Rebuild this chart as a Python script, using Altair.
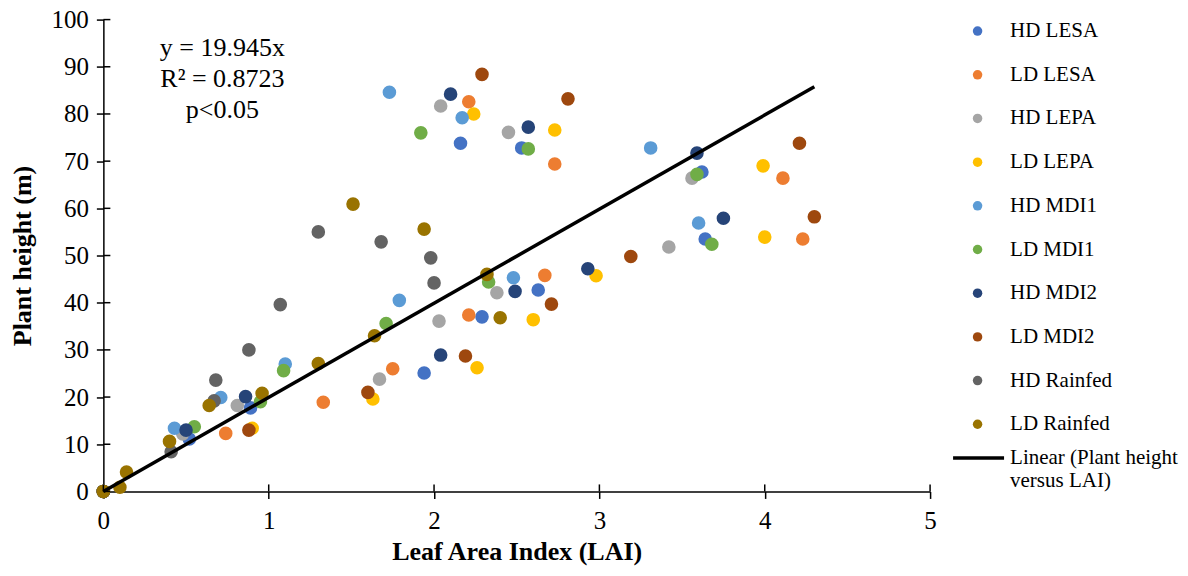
import altair as alt
import pandas as pd

series = ["HD LESA", "LD LESA", "HD LEPA", "LD LEPA", "HD MDI1",
          "LD MDI1", "HD MDI2", "LD MDI2", "HD Rainfed", "LD Rainfed"]
colors = ["#4472C4", "#ED7D31", "#A5A5A5", "#FFC000", "#5B9BD5",
          "#70AD47", "#264478", "#9E480E", "#636363", "#997300"]

hd_lesa_lai = [0, 0.52, 0.89, 1.94, 2.29, 2.63, 3.64, 3.62, 2.16, 2.53]
hd_lesa_h = [0, 11.1, 17.7, 25.1, 37.0, 42.7, 53.5, 67.7, 73.8, 72.8]
ld_lesa_lai = [0, 0.74, 1.33, 1.75, 2.21, 2.67, 4.23, 4.11, 2.73, 2.21]
ld_lesa_h = [0, 12.3, 18.9, 26.0, 37.4, 45.8, 53.5, 66.4, 69.4, 82.6]
hd_lepa_lai = [0, 0.48, 0.81, 1.67, 2.03, 2.38, 3.42, 3.56, 2.45, 2.04]
hd_lepa_h = [0, 12.2, 18.2, 23.8, 36.1, 42.1, 51.8, 66.4, 76.1, 81.7]
ld_lepa_lai = [0, 0.90, 1.63, 2.26, 2.60, 2.98, 4.00, 3.99, 2.73, 2.24]
ld_lepa_h = [0, 13.4, 19.6, 26.2, 36.4, 45.7, 53.9, 69.0, 76.6, 80.0]
hd_mdi1_lai = [0, 0.43, 0.71, 1.10, 1.79, 2.48, 3.60, 3.31, 2.17, 1.73]
hd_mdi1_h = [0, 13.4, 19.9, 27.0, 40.5, 45.3, 56.9, 72.8, 79.2, 84.6]
ld_mdi1_lai = [0, 0.55, 0.95, 1.09, 1.71, 2.33, 3.68, 3.59, 2.57, 1.92]
ld_mdi1_h = [0, 13.7, 19.0, 25.6, 35.6, 44.4, 52.4, 67.2, 72.6, 76.0]
hd_mdi2_lai = [0, 0.50, 0.86, 2.04, 2.49, 2.93, 3.75, 3.59, 2.57, 2.10]
hd_mdi2_h = [0, 13.0, 20.1, 28.9, 42.4, 47.2, 57.9, 71.7, 77.2, 84.2]
ld_mdi2_lai = [0, 0.88, 1.60, 2.19, 2.71, 3.19, 4.30, 4.21, 2.81, 2.29]
ld_mdi2_h = [0, 13.0, 21.0, 28.7, 39.7, 49.8, 58.2, 73.8, 83.2, 88.4]
hd_rain_lai = [0, 0.41, 0.67, 0.68, 0.88, 1.07, 1.30, 1.68, 1.98, 2.00]
hd_rain_h = [0, 8.4, 19.2, 23.6, 30.0, 39.6, 55.0, 52.9, 49.5, 44.2]
ld_rain_lai = [0, 0.10, 0.14, 0.40, 0.64, 0.96, 1.30, 1.64, 1.51, 1.94, 2.32, 2.40]
ld_rain_h = [0, 0.9, 4.1, 10.6, 18.2, 20.8, 27.1, 33.0, 60.9, 55.6, 46.0, 36.8]

slope = 19.945
trend_x = [0, 4.30]
trend_label = ["Linear (Plant height|versus LAI)"]
note_lines = ["y = 19.945x", "R\u00b2 = 0.8723", "p<0.05"]
x_ticks = [0, 1, 2, 3, 4, 5]
y_ticks = [0, 10, 20, 30, 40, 50, 60, 70, 80, 90, 100]

lai_lists = [hd_lesa_lai, ld_lesa_lai, hd_lepa_lai, ld_lepa_lai, hd_mdi1_lai,
             ld_mdi1_lai, hd_mdi2_lai, ld_mdi2_lai, hd_rain_lai, ld_rain_lai]
h_lists = [hd_lesa_h, ld_lesa_h, hd_lepa_h, ld_lepa_h, hd_mdi1_h,
           ld_mdi1_h, hd_mdi2_h, ld_mdi2_h, hd_rain_h, ld_rain_h]

rows = []
for s, xs, ys in zip(series, lai_lists, h_lists):
    for a, b in zip(xs, ys):
        rows.append({"series": s, "lai": a, "h": b})
pts_df = pd.DataFrame(rows)
trend_df = pd.DataFrame({"lai": trend_x, "h": [slope * v for v in trend_x],
                         "label": trend_label * len(trend_x)})
note_df = pd.DataFrame({"lai": [0.72], "h": [94.0], "txt": ["\n".join(note_lines)]})
xt_df = pd.DataFrame({"lai": x_ticks})
yt_df = pd.DataFrame({"h": y_ticks})

FONT = "Liberation Serif"
xscale = alt.Scale(domain=[0, 5], nice=False, zero=False)
yscale = alt.Scale(domain=[0, 100], nice=False, zero=False)

x_axis = alt.Axis(values=x_ticks, title="Leaf Area Index (LAI)", format="d",
                  labelFlush=False, labelFont=FONT, labelFontSize=25,
                  labelPadding=10, titlePadding=5)
y_axis = alt.Axis(values=y_ticks, title="Plant height (m)", format="d",
                  labelFlush=False, labelFont=FONT, labelFontSize=25,
                  labelPadding=8, titlePadding=15)

points = alt.Chart(pts_df).mark_circle(size=185, opacity=1).encode(
    x=alt.X("lai:Q", scale=xscale, axis=x_axis),
    y=alt.Y("h:Q", scale=yscale, axis=y_axis),
    color=alt.Color("series:N", scale=alt.Scale(domain=series, range=colors),
                    legend=alt.Legend(title=None, orient="none", legendX=864,
                                      legendY=1, symbolType="circle",
                                      symbolSize=90, symbolOpacity=1,
                                      symbolStrokeWidth=0, labelFont=FONT,
                                      labelFontSize=21, labelColor="black",
                                      labelOffset=22, rowPadding=21.7,
                                      labelLimit=300)))

y_inner = alt.Chart(yt_df).mark_rule(color="black", strokeWidth=1.5).encode(
    y=alt.Y("h:Q", scale=yscale),
    x=alt.value(0), x2=alt.value(7))
x_inner = alt.Chart(xt_df).mark_rule(color="black", strokeWidth=1.5).encode(
    x=alt.X("lai:Q", scale=xscale),
    y=alt.value(465), y2=alt.value(472))

trend = alt.Chart(trend_df).mark_line(strokeWidth=3.5, color="black").encode(
    x=alt.X("lai:Q", scale=xscale),
    y=alt.Y("h:Q", scale=yscale),
    stroke=alt.Stroke("label:N", scale=alt.Scale(range=["black"]),
                      legend=alt.Legend(title=None, orient="none", legendX=848,
                                        legendY=411,
                                        symbolType="M-1,0H1",
                                        symbolSize=2601, symbolStrokeWidth=3.5,
                                        symbolStrokeColor="black",
                                        labelFont=FONT, labelFontSize=21,
                                        labelColor="black", labelOffset=4,
                                        labelLimit=300,
                                        labelExpr="split(datum.label, '|')")))

note = alt.Chart(note_df).mark_text(font=FONT, fontSize=26, lineHeight=31,
                                    lineBreak="\n", align="center",
                                    baseline="middle", color="black").encode(
    x=alt.X("lai:Q", scale=xscale),
    y=alt.Y("h:Q", scale=yscale),
    text="txt:N")

chart = alt.layer(points, y_inner, x_inner, trend, note).properties(
    width=827, height=472,
    autosize=alt.AutoSizeParams(type="none"),
    padding={"left": 95.4, "top": 11.5, "right": 250, "bottom": 76.5},
).configure_view(stroke=None).configure_axis(
    grid=False, tickSize=7, tickWidth=1.5, domainWidth=1.5, domainColor="black",
    tickColor="black", labelColor="black", labelFont=FONT, labelFontSize=25,
    titleFont=FONT, titleFontSize=26, titleFontWeight="bold",
    titleColor="black", labelFlush=False
).resolve_legend(color="independent", stroke="independent")

chart.save("out.html", embed_options={"renderer": "svg", "actions": False})
